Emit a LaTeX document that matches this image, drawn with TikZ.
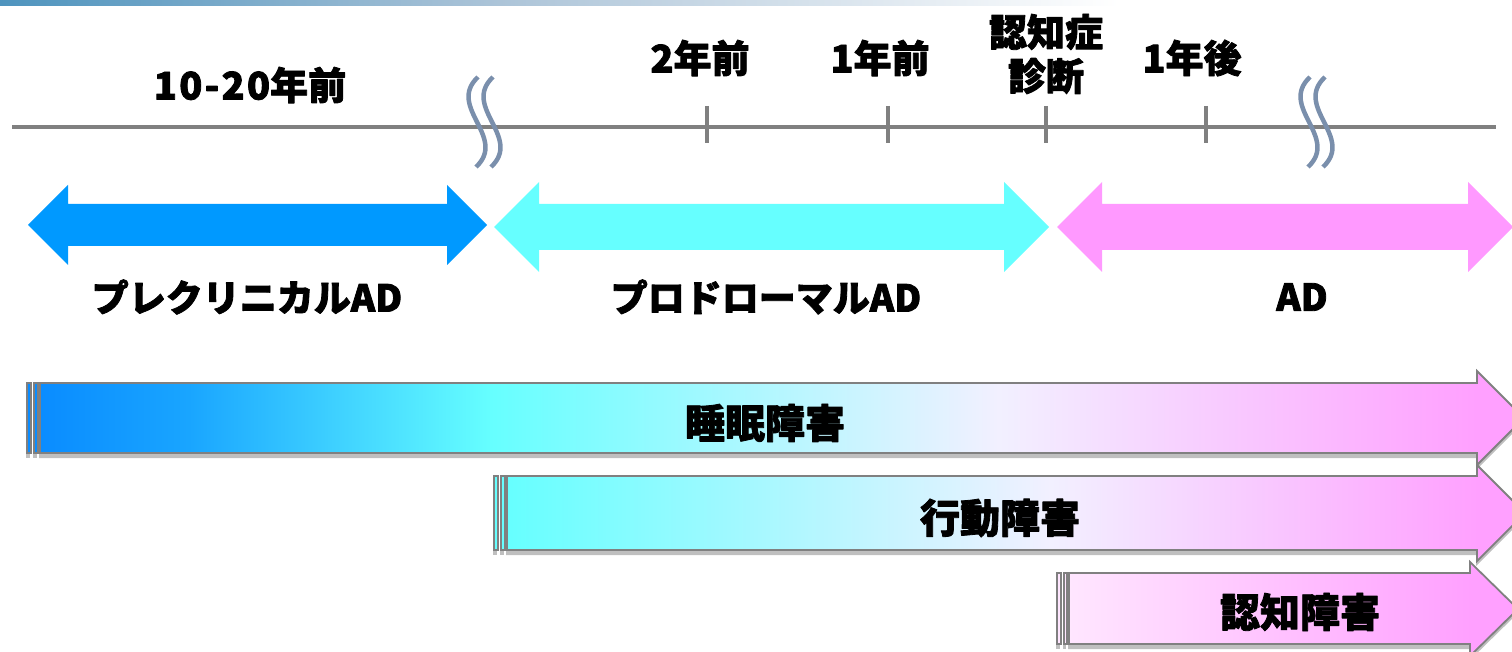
\documentclass[tikz,border=0pt]{standalone}
\usepackage{fontspec}
\newfontfamily\jp{Noto Sans CJK JP}
\usetikzlibrary{shadows}
\newcommand\heavytext[1]{\special{pdf:literal direct 2 Tr 0.8 w 1 j}#1\special{pdf:literal direct 0 Tr 0.4 w 0 j}}
\definecolor{tlgray}{RGB}{128,128,128}
\definecolor{brkblue}{RGB}{122,143,172}
\definecolor{bargray}{RGB}{128,128,128}
\definecolor{dblue}{RGB}{0,153,255}
\definecolor{dcyan}{RGB}{102,255,255}
\definecolor{dpink}{RGB}{255,153,255}
\definecolor{gblue}{RGB}{10,140,255}
\definecolor{gblue2}{RGB}{25,165,255}
\definecolor{gcyan}{RGB}{102,255,255}
\definecolor{glav}{RGB}{242,240,255}
\definecolor{gpink}{RGB}{255,160,255}
\definecolor{gpinkl}{RGB}{255,230,255}
\definecolor{topA}{RGB}{78,148,190}
\definecolor{topB}{RGB}{172,196,216}
\pgfdeclarehorizontalshading{topshade}{100bp}{color(0bp)=(topA); color(25bp)=(topA); color(41.5bp)=(topB); color(62bp)=(white); color(100bp)=(white)}
\pgfdeclarehorizontalshading{sleepshade}{100bp}{color(0bp)=(gblue); color(25bp)=(gblue); color(30bp)=(gblue2); color(40.2bp)=(gcyan); color(57.3bp)=(glav); color(73.4bp)=(gpink); color(100bp)=(gpink)}
\pgfdeclarehorizontalshading{behshade}{100bp}{color(0bp)=(gcyan); color(25bp)=(gcyan); color(51.7bp)=(glav); color(72.7bp)=(gpink); color(100bp)=(gpink)}
\pgfdeclarehorizontalshading{cogshade}{100bp}{color(0bp)=(gpinkl); color(25bp)=(gpinkl); color(69.8bp)=(gpink); color(100bp)=(gpink)}
\tikzset{
  tl/.style={draw=tlgray, line width=4.5pt},
  brk/.style={draw=brkblue, line width=4.5pt},
  toplbl/.style={font=\jp\bfseries\fontsize{38}{44}\selectfont, inner sep=0pt, align=center},
  phlbl/.style={font=\jp\bfseries\fontsize{37}{42}\selectfont, inner sep=0pt},
  barlbl/.style={font=\jp\bfseries\fontsize{40}{44}\selectfont, inner sep=0pt},
  barout/.style={draw=bargray, line width=1.8pt, line join=miter,
    drop shadow={shadow xshift=-1pt, shadow yshift=-5pt, opacity=0.25, fill=black}},
}
\begin{document}
\begin{tikzpicture}[x=1pt,y=-1pt]
\useasboundingbox (0,0) rectangle (1512,652);
\begin{scope}
\clip (0,0) rectangle (1512,652);
% top band
\shade[shading=topshade] (0,0) rectangle (1512,6);

% timeline
\coordinate (tlL) at (12,127);
\coordinate (tlR) at (1496,127);
\draw[tl] (tlL) -- (tlR);
\foreach \x in {707,888,1046,1206} \draw[tl] (\x,106) -- (\x,143);

% break marks
\foreach \bx in {478,1310} {
  \foreach \dx in {0,15} {
    \draw[brk] (\bx+\dx,77) .. controls (\bx+\dx-32,107) and (\bx+\dx+30,137) .. (\bx+\dx-2,167);
  }
}

% time labels
\node[toplbl] (l1020) at (250,85) {\heavytext{\addfontfeature{LetterSpace=6}10-20\addfontfeature{LetterSpace=0}年前}};
\node[toplbl] (l2) at (700,58) {\heavytext{2年前}};
\node[toplbl] (l1) at (880,58) {\heavytext{1年前}};
\node[toplbl] (ldx) at (1046,54) {\heavytext{認知症}\\\heavytext{診断}};
\node[toplbl] (l1a) at (1192,58) {\heavytext{1年後}};

% phase double arrows
\fill[dblue] (28,225) -- (68,185) -- (68,204) -- (447,204) -- (447,185) -- (487,225) -- (447,265) -- (447,246) -- (68,246) -- (68,265) -- cycle;
\fill[dcyan] (494,227) -- (539,182) -- (539,204) -- (1004,204) -- (1004,182) -- (1049,227) -- (1004,272) -- (1004,250) -- (539,250) -- (539,272) -- cycle;
\fill[dpink] (1057,227) -- (1102,182) -- (1102,204) -- (1468,204) -- (1468,182) -- (1513,227) -- (1468,272) -- (1468,250) -- (1102,250) -- (1102,272) -- cycle;

\node[phlbl] (pre) at (247,297) {\heavytext{プレクリニカルAD}};
\node[phlbl] (pro) at (766,297) {\heavytext{プロドローマルAD}};
\node[phlbl] (ad) at (1302,297) {\heavytext{AD}};

% symptom bars
\path[barout, fill=gblue] (27,383) rectangle (31,453);
\path[barout, fill=gblue] (34,383) rectangle (38,453);
\path[barout, shade, shading=sleepshade] (40,383) -- (1477,383) -- (1477,371) -- (1524,418) -- (1477,465) -- (1477,453) -- (40,453) -- cycle;
\node[barlbl] (sleep) at (765,423) {\heavytext{睡眠障害}};

\path[barout, fill=gcyan] (494,476) rectangle (498,550);
\path[barout, fill=gcyan] (501,476) rectangle (505,550);
\path[barout, shade, shading=behshade] (507,476) -- (1477,476) -- (1477,465) -- (1525,513) -- (1477,561) -- (1477,550) -- (507,550) -- cycle;
\node[barlbl] (beh) at (1000,518) {\heavytext{行動障害}};

\path[barout, fill=gpinkl] (1057,573) rectangle (1061,644);
\path[barout, fill=gpinkl] (1064,573) rectangle (1067,644);
\path[barout, shade, shading=cogshade] (1069,573) -- (1470,573) -- (1470,562) -- (1518,609) -- (1470,656) -- (1470,644) -- (1069,644) -- cycle;
\node[barlbl] (cog) at (1300,612) {\heavytext{認知障害}};
\end{scope}
\end{tikzpicture}
\end{document}
